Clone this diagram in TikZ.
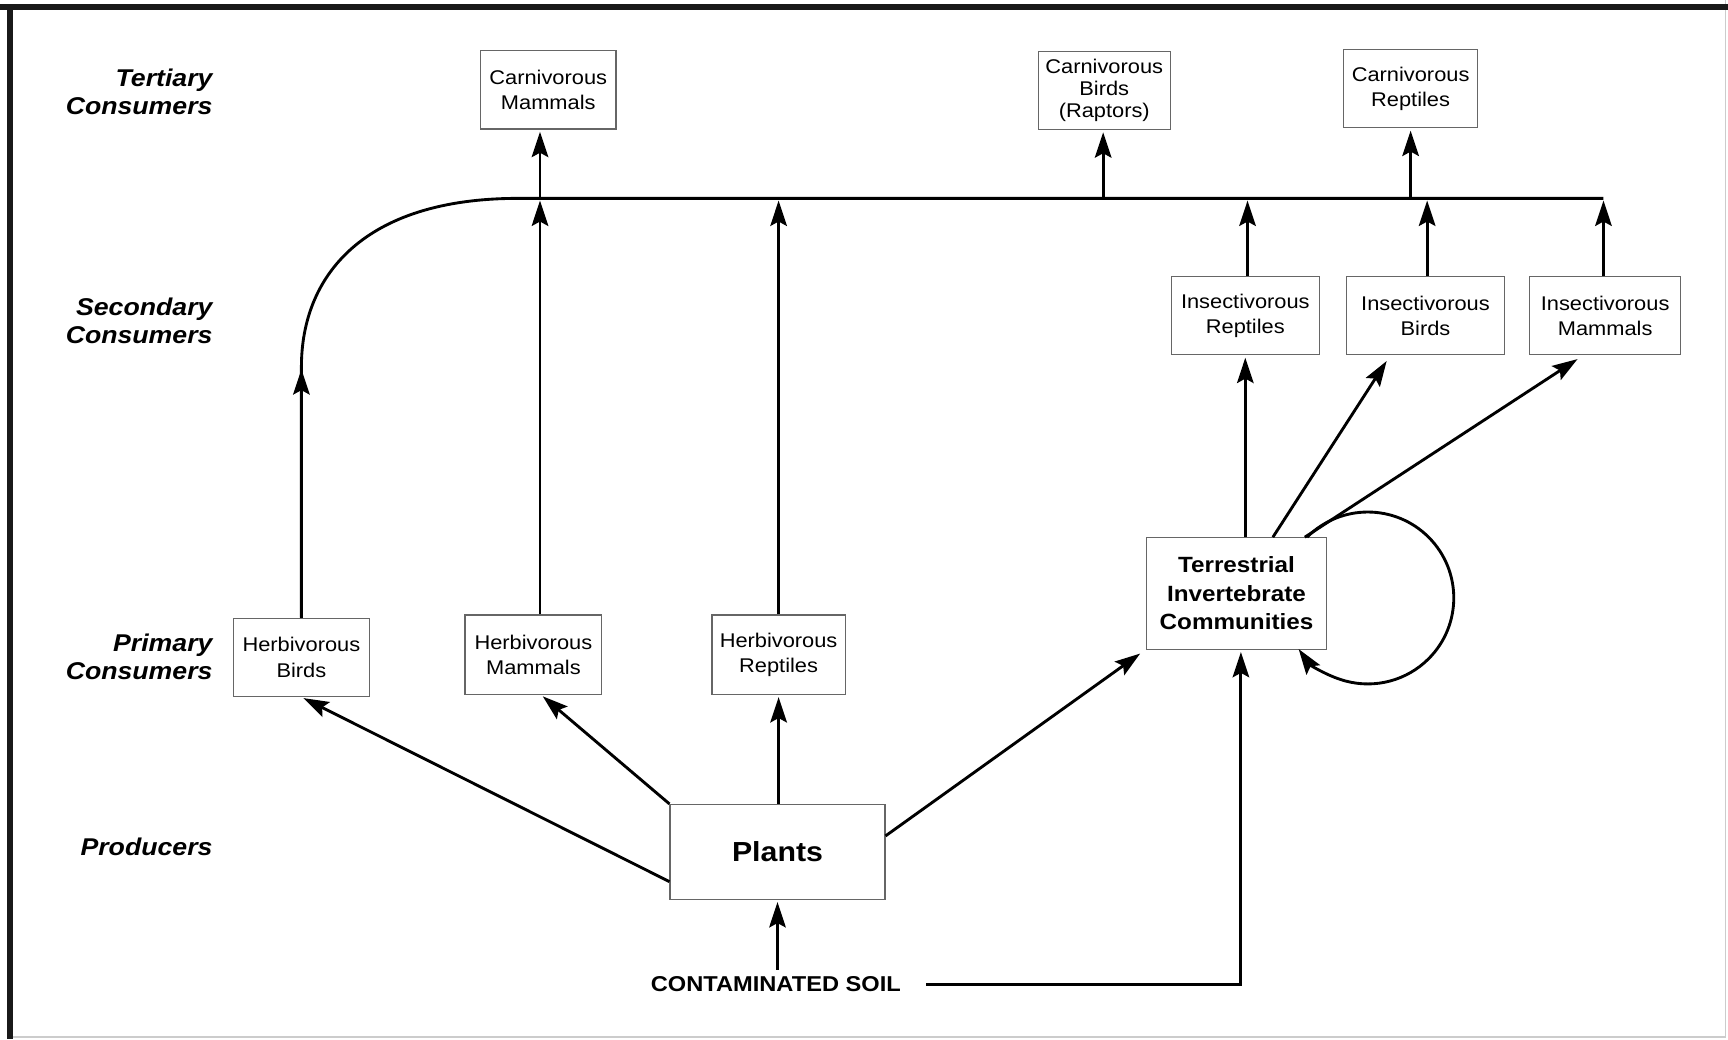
\documentclass[tikz,border=0pt]{standalone}
\usepackage{fontspec}
\setmainfont[FakeStretch=1.1]{Liberation Sans}
\usetikzlibrary{arrows.meta,positioning,calc}
\tikzset{
    feed/.style={-{Stealth[length=23pt, width=15pt, inset=4pt]}, line width=2.6pt, shorten >=2pt},
    link/.style={line width=2.6pt},
    taxon/.style={draw=black!60, line width=1.1pt, align=center, inner sep=0pt},
    consumer/.style={taxon, execute at begin node={\rule{0pt}{19pt}}, font=\fontsize{18}{23}\selectfont},
    level/.style={anchor=east, align=right, inner sep=0pt, font=\fontsize{22}{25.5}\selectfont\bfseries\itshape}
}

\begin{document}
\begin{tikzpicture}[x=1pt, y=-1pt]
    \useasboundingbox (0,0) rectangle (1568,943);
    % frame
    \draw[black!20, line width=1pt] (1566,0) -- (1566,941) -- (9,941);
    \draw[black!90, line width=5.5pt] (0,6.3) -- (1568,6.3);
    \draw[black!90, line width=5.5pt] (9,4) -- (9,943);

    % trophic levels
    \node[level] (tert) at (193,83.5) {Tertiary\\Consumers};
    \node[level] (sec) at (193,291) {Secondary\\Consumers};
    \node[level] (prim) at (193,596) {Primary\\Consumers};
    \node[level] (prod) at (193,768) {Producers};

    % tertiary consumers
    \node[consumer, minimum width=123pt, minimum height=71pt] (cm) at (497.5,81.5) {Carnivorous\\Mammals};
    \node[consumer, minimum width=120pt, minimum height=71pt, font=\fontsize{18}{20}\selectfont] (cb) at (1002,82) {Carnivorous\\Birds\\(Raptors)};
    \node[consumer, minimum width=122pt, minimum height=71pt] (cr) at (1280,80.5) {Carnivorous\\Reptiles};

    % secondary consumers
    \node[consumer, minimum width=134pt, minimum height=71pt] (ir) at (1130,286.5) {Insectivorous\\Reptiles};
    \node[consumer, minimum width=143pt, minimum height=71pt] (ib) at (1293.5,286.5) {Insectivorous\\Birds};
    \node[consumer, minimum width=137pt, minimum height=71pt] (im) at (1456.5,286.5) {Insectivorous\\Mammals};

    % primary consumers
    \node[consumer, minimum width=123pt, minimum height=71pt] (hb) at (273.5,596.5) {Herbivorous\\Birds};
    \node[consumer, minimum width=124pt, minimum height=72pt] (hm) at (484,594) {Herbivorous\\Mammals};
    \node[consumer, minimum width=121pt, minimum height=72pt] (hr) at (706.5,594) {Herbivorous\\Reptiles};
    \node[taxon, minimum width=164pt, minimum height=101pt, font=\fontsize{20}{26}\selectfont\bfseries] (tic) at (1122,538.5) {Terrestrial\\Invertebrate\\Communities};

    % producers and soil
    \node[taxon, minimum width=195pt, minimum height=86pt, font=\fontsize{25}{30}\selectfont\bfseries] (plants) at (705.5,773) {Plants};
    \node[inner sep=6pt, font=\fontsize{19.5}{24}\selectfont\bfseries] (soil) at (704,893) {CONTAMINATED SOIL};

    % collector line
    \coordinate (hbturn) at (273.5,333);
    \coordinate (busL) at (470,180);
    \coordinate (busR) at (1455,180);
    \coordinate (busHM) at (490,180);
    \coordinate (busHR) at (706.5,180);
    \coordinate (busIR) at (1132,180);
    \coordinate (busIB) at (1295,180);
    \coordinate (busCB) at (1001,180);
    \coordinate (busCR) at (1280,180);
    \coordinate (soilturn) at (1126,895);

    \draw[link] (hb.north) -- (hbturn) .. controls (273.5,250) and (330,180) .. (busL) -- (busR);
    \draw[feed] (hb.north) -- (hbturn);
    \draw[feed] (hm.north -| busHM) -- (busHM);
    \draw[feed] (hr.north) -- (busHR);
    \draw[feed] (ir.north -| busIR) -- (busIR);
    \draw[feed] (ib.north -| busIB) -- (busIB);
    \draw[feed] (im.north -| busR) -- (busR);

    \draw[feed] (busHM) -- (cm.south -| busHM);
    \draw[feed] (busCB) -- (cb.south -| busCB);
    \draw[feed] (busCR) -- (cr.south -| busCR);

    % invertebrates
    \draw[feed] (tic.north -| ir.south) -- (ir.south);
    \draw[feed, shorten >=6pt] ($(tic.north)+(33,0)$) -- ($(ib.south)+(-32,0)$);
    \draw[feed, shorten >=6pt] ($(tic.north)+(62,0)$) -- ($(im.south)+(-20,0)$);
    \draw[feed] ($(tic.north)+(64,0)$) arc[start angle=135, end angle=-145, radius=78pt];

    % plants
    \draw[feed] ($(plants.west)+(0,27)$) -- (hb.south);
    \draw[feed] (plants.north west) -- ($(hm.south)+(7,0)$);
    \draw[feed] (plants.north -| hr.south) -- (hr.south);
    \draw[feed, shorten >=6pt] ($(plants.east)+(0,-14.5)$) -- (tic.south west);

    % soil
    \draw[feed] (soil.north -| plants.south) -- (plants.south);
    \draw[feed, shorten <=17pt] (soil.east) -- (soil.east -| soilturn) -- (tic.south -| soilturn);
\end{tikzpicture}
\end{document}
